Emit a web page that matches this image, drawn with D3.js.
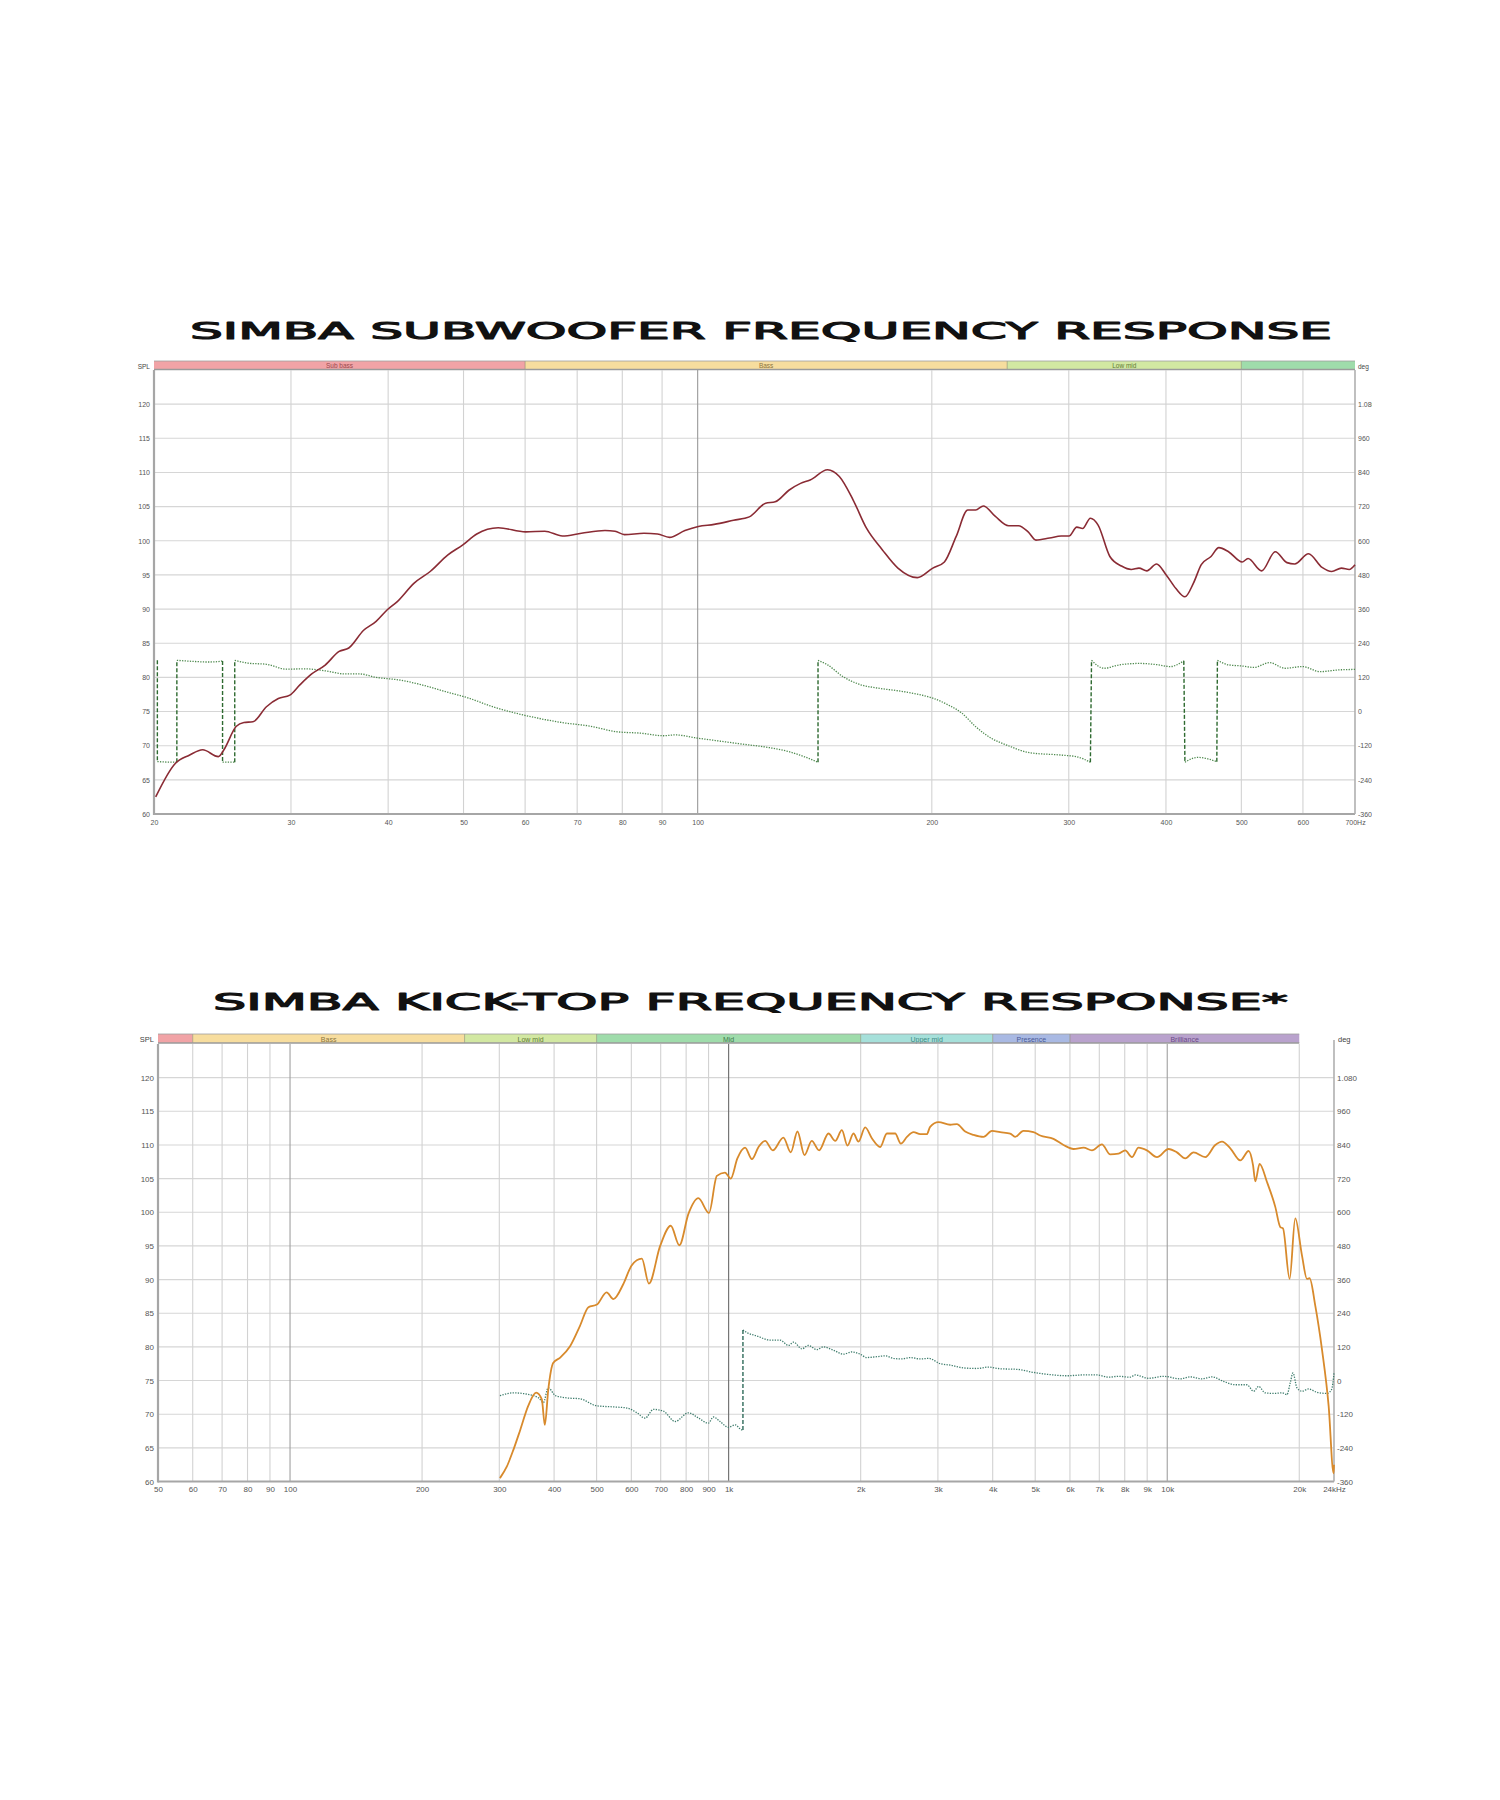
<!DOCTYPE html>
<html>
<head>
<meta charset="utf-8">
<script src="https://cdn.jsdelivr.net/npm/d3@7"></script>
<style>
  body { margin: 0; background: #ffffff; }
  svg { display: block; }
</style>
</head>
<body>
<svg id="chart" width="1500" height="1800"></svg>
<script>
// ---------------- DATA ----------------
const bandNames  = ["Sub bass", "Bass", "Low mid", "Mid", "Upper mid", "Presence", "Brilliance"];
const bandEdges  = [20, 60, 250, 500, 2000, 4000, 6000, 20000];
const bandColors = ["#f1a3a6", "#f7dd9e", "#d2e8a2", "#9fdcab", "#a6e0da", "#a9b9e3", "#b9a2cd"];
const bandText   = ["#9a4a4e", "#8a7440", "#5f7a36", "#3f7a4c", "#3f8a84", "#4a5a96", "#6a4a86"];

const splTicks = [60, 65, 70, 75, 80, 85, 90, 95, 100, 105, 110, 115, 120];
const degTicks = [-360, -240, -120, 0, 120, 240, 360, 480, 600, 720, 840, 960, 1080];

const subTitle = "SIMBA SUBWOOFER FREQUENCY RESPONSE";
const subXTicks = [20, 30, 40, 50, 60, 70, 80, 90, 100, 200, 300, 400, 500, 600, 700];
const subGrid   = [30, 40, 50, 60, 70, 80, 90, 100, 200, 300, 400, 500, 600];

const subSplFreq = [20.1,21.3,22.2,23.1,24.2,24.6,25.5,26.1,26.8,27.9,28.9,29.9,30.8,31.9,33.2,34.6,35.6,37.2,38.6,39.9,41.1,43.2,45.3,47.7,49.9,52,55.4,60.1,63.6,67,70.9,76,78.3,80.5,85.3,88.8,92,96.3,100.2,105,111.2,116.5,122.3,125.8,131,135.6,139.5,146.9,152.1,158.4,164.9,172.7,180.9,191.6,200.6,207.6,214.9,222.5,227.7,233,241.2,251.1,258.5,266,272.2,283.4,293.4,300.2,307.2,312.5,319.8,327.2,338.8,350.7,360.9,369.3,378,389,400.3,412,423.1,433.9,444.1,457.1,467.8,481.4,501.2,510,531,552.8,572.3,585.5,610,634.9,653.4,672.4,688.1,700];
const subSplDb   = [62.5,67.4,68.6,69.4,68.4,69.4,72.8,73.4,73.5,75.7,76.9,77.4,78.9,80.5,81.8,83.8,84.3,86.9,88.2,89.9,91.1,93.8,95.5,97.9,99.4,101,101.9,101.3,101.4,100.7,101.1,101.5,101.4,100.9,101.1,101,100.5,101.5,102.1,102.4,103,103.5,105.5,105.7,107.4,108.4,108.9,110.4,109.4,106,101.8,98.7,96,94.6,96,96.9,100.6,104.5,104.5,105.1,103.6,102.2,102.2,101.3,100.1,100.4,100.7,100.7,102,101.8,103.3,102.3,97.7,96.3,95.8,96,95.6,96.6,95,93,91.8,93.8,96.5,97.7,99,98.4,96.9,97.4,95.6,98.4,96.8,96.6,98.1,96.1,95.5,96,95.8,96.5];

const subPhaseFreq = [20.2,20.2,21.3,21.4,21.4,22.5,23.5,24.3,24.5,24.5,25.4,25.4,26.4,27.9,29.6,31.3,33.2,35.2,36.8,38.6,41.3,44.3,47.4,50.8,54.5,58.4,62.5,67,72.6,78.7,84.4,90.4,93.6,99.1,106.2,113.8,123.7,131,137.2,142.8,142.8,146.9,153.9,161.2,170.7,180.9,191.6,200.6,210,218.7,227.7,238.5,249.7,267.6,293.4,307.2,319.8,320.9,333,348.6,369.3,391.3,404.9,421.7,423.1,439.2,465,465.8,481.4,501.2,518.9,543.5,569,599.3,631,664.8,700];
const subPhaseDeg  = [180,-176,-178,-178,180,176,174,176,178,-178,-178,180,170,166,149,150,143,132,132,120,111,93,70,47,17,-6,-24,-39,-51,-71,-76,-85,-82,-92,-103,-114,-127,-141,-159,-178,180,164,122,96,82,73,61,47,23,-6,-53,-94,-118,-145,-153,-159,-178,180,152,164,169,164,158,178,-178,-161,-176,180,164,160,155,172,152,158,140,146,148];

const kickTitle = "SIMBA KICK-TOP FREQUENCY RESPONSE*";
const kickXTicks = [50, 60, 70, 80, 90, 100, 200, 300, 400, 500, 600, 700, 800, 900, 1000, 2000, 3000, 4000, 5000, 6000, 7000, 8000, 9000, 10000, 20000, 24000];
const kickGrid   = [60, 70, 80, 90, 100, 200, 300, 400, 500, 600, 700, 800, 900, 1000, 2000, 3000, 4000, 5000, 6000, 7000, 8000, 9000, 10000, 20000];

const kickSplFreq = [301,312,323,335,349,364,375,381,388,398,413,435,458,479,501,527,546,575,601,634,658,698,738,772,810,853,902,940,981,1011,1047,1090,1130,1170,1211,1261,1333,1386,1435,1489,1547,1608,1689,1750,1812,1866,1926,1977,2048,2121,2216,2295,2397,2470,2550,2640,2735,2831,2880,3010,3200,3314,3462,3617,3812,3984,4160,4385,4500,4700,4955,5133,5503,5801,6116,6446,6735,7096,7413,7744,8020,8308,8600,8989,9476,10070,10521,10993,11480,12211,12871,13331,13924,14676,15330,15688,15876,16238,16882,17633,18104,18360,19011,19585,20284,20825,21113,21757,22535,23336,23950,24000];
const kickSplDb   = [60.5,62.2,64.7,67.7,71.2,73.2,72.2,68.4,73.7,77.6,78.4,80.1,83.1,85.9,86.3,88.1,87.1,89.3,92.1,93.1,89.4,95,98,95.1,99.8,102.1,99.9,105.4,105.9,105,108,109.6,107.9,109.7,110.6,109.2,111.1,108.9,112,108.5,110.6,109.2,111.7,110.6,112.2,109.9,111.7,110.5,112.6,111,109.7,111.7,111.7,110.2,111.2,111.9,111.6,111.6,112.7,113.4,113,113.1,112,111.5,111.2,112.1,111.9,111.7,111.2,112.1,111.9,111.4,110.9,110,109.4,109.6,109.2,110.1,108.6,108.7,109.2,108.2,109.6,109.2,108.2,109.4,108.9,108,108.9,108.2,110,110.5,109.5,107.7,109.1,107,104.6,107.2,104.5,100.8,97.8,97.6,90.1,99.1,93.6,90.1,90.2,86.1,79.6,71.2,61.2,62.5];

const kickPhaseFreq = [301,323,345,369,378,388,403,428,458,500,546,586,618,645,674,710,755,810,854,899,923,956,999,1035,1072,1078,1078,1100,1160,1243,1310,1369,1406,1469,1520,1589,1645,1734,1827,1910,1995,2065,2177,2275,2376,2483,2594,2735,2859,3037,3200,3431,3681,3913,4160,4541,4955,5409,5903,6446,6909,7346,7744,8233,8452,9063,9807,10706,11283,11996,12645,13440,14289,15194,15733,16157,16730,17473,18264,18749,19075,19349,19760,20284,21004,21950,23136,23700,24000];
const kickPhaseDeg  = [-54,-44,-48,-62,-79,-26,-54,-62,-65,-90,-94,-98,-115,-134,-103,-109,-146,-115,-134,-152,-130,-146,-167,-158,-176,-176,180,171,159,144,144,125,137,113,125,110,120,108,94,102,94,82,85,88,79,77,82,77,79,60,55,45,43,48,42,40,29,21,17,20,20,12,15,12,20,8,15,6,13,6,13,-3,-15,-15,-38,-21,-44,-46,-44,-50,-8,27,-26,-38,-30,-42,-46,-32,27];

// ---------------- DRAWING ----------------
const svg = d3.select("#chart");
svg.append("rect").attr("width", 1500).attr("height", 1800).attr("fill", "#ffffff");

const zip = (a, b) => a.map((v, i) => [v, b[i]]);
const fmtK = f => f >= 1000 ? (f / 1000) + "k" : String(f);
const fmtDeg = d => d === 1080 ? "1.080" : String(d);

function drawChart(cfg) {
  const g = svg.append("g");
  if (cfg.clipRight) {
    const id = "clip" + cfg.id;
    svg.append("clipPath").attr("id", id).append("rect")
      .attr("x", 0).attr("y", cfg.top - 80).attr("width", cfg.clipRight).attr("height", cfg.bottom - cfg.top + 140);
    g.attr("clip-path", `url(#${id})`);
  }
  const x = d3.scaleLog().domain(cfg.xDomain).range([cfg.left, cfg.right]);
  const y = d3.scaleLinear().domain([60, 125]).range([cfg.bottom, cfg.top]);
  const yDeg = d3.scaleLinear().domain([-360, 1200]).range([cfg.bottom, cfg.top]);

  // Title
  svg.append("text")
    .attr("x", cfg.titleX0).attr("y", cfg.titleY)
    .attr("textLength", cfg.titleW).attr("lengthAdjust", "spacingAndGlyphs")
    .attr("font-family", "DejaVu Sans, sans-serif").attr("font-weight", "normal")
    .attr("font-size", 23).attr("fill", "#111").attr("stroke", "#111").attr("stroke-width", 1.1)
    .attr("stroke-linejoin", "round")
    .text(cfg.title);

  // Band bar
  const barEnd = Math.min(cfg.xDomain[1], bandEdges[bandEdges.length - 1]);
  bandNames.forEach((name, i) => {
    const a = Math.max(bandEdges[i], cfg.xDomain[0]);
    const b = Math.min(bandEdges[i + 1], barEnd);
    if (b <= a) return;
    g.append("rect").attr("x", x(a)).attr("y", cfg.barY).attr("width", x(b) - x(a)).attr("height", cfg.barH)
      .attr("fill", bandColors[i]);
    const c = Math.sqrt(bandEdges[i] * bandEdges[i + 1]);
    if (c > cfg.xDomain[0] && c < cfg.xDomain[1]) {
      g.append("text").attr("x", x(c)).attr("y", cfg.barY + cfg.barH - 1.5)
        .attr("text-anchor", "middle").attr("font-family", "Liberation Sans, Arial, sans-serif")
        .attr("font-size", cfg.barFont).attr("fill", bandText[i]).text(name);
    }
    if (i > 0 && bandEdges[i] > cfg.xDomain[0]) {
      g.append("line").attr("x1", x(bandEdges[i])).attr("x2", x(bandEdges[i]))
        .attr("y1", cfg.barY).attr("y2", cfg.barY + cfg.barH).attr("stroke", "#8a8a6a").attr("stroke-width", 0.6);
    }
  });
  g.append("line").attr("x1", cfg.left).attr("x2", x(barEnd)).attr("y1", cfg.barY).attr("y2", cfg.barY)
    .attr("stroke", "#a0a0a0").attr("stroke-width", 0.8);
  g.append("line").attr("x1", cfg.left).attr("x2", x(barEnd)).attr("y1", cfg.barY + cfg.barH).attr("y2", cfg.barY + cfg.barH)
    .attr("stroke", "#9a9a9a").attr("stroke-width", 1.5);

  // Grid
  g.selectAll(null).data(splTicks.filter(v => v > 60)).enter().append("line")
    .attr("x1", cfg.left).attr("x2", cfg.right).attr("y1", d => y(d)).attr("y2", d => y(d))
    .attr("stroke", "#d6d6d6").attr("stroke-width", 1.1);
  g.selectAll(null).data(cfg.grid).enter().append("line")
    .attr("x1", d => x(d)).attr("x2", d => x(d)).attr("y1", cfg.top).attr("y2", cfg.bottom)
    .attr("stroke", d => cfg.darkGrid.includes(d) ? cfg.darkColor(d) : "#d2d2d2")
    .attr("stroke-width", 1.1);

  // Frame
  g.append("line").attr("x1", cfg.left).attr("x2", cfg.left).attr("y1", cfg.top).attr("y2", cfg.bottom + 1)
    .attr("stroke", "#a6a6a6").attr("stroke-width", 2.2);
  g.append("line").attr("x1", cfg.left).attr("x2", cfg.right).attr("y1", cfg.bottom).attr("y2", cfg.bottom)
    .attr("stroke", "#a6a6a6").attr("stroke-width", 2.2);
  g.append("line").attr("x1", cfg.right).attr("x2", cfg.right).attr("y1", cfg.top - (cfg.rightTopExtra || 0)).attr("y2", cfg.bottom)
    .attr("stroke", "#b0b0b0").attr("stroke-width", 1.6);

  // Axes labels
  const labelFont = "Liberation Sans, Arial, sans-serif";
  const ax = g.append("g").attr("transform", `translate(0,${cfg.bottom})`)
    .call(d3.axisBottom(x).tickValues(cfg.xTicks).tickSize(0).tickPadding(cfg.xPad)
      .tickFormat(d => d === cfg.xDomain[1] ? fmtK(d) + "Hz" : fmtK(d)));
  ax.select(".domain").remove();
  ax.selectAll("text").attr("font-family", labelFont).attr("font-size", cfg.tickFont).attr("fill", "#555");

  const ayl = g.append("g").attr("transform", `translate(${cfg.left},0)`)
    .call(d3.axisLeft(y).tickValues(splTicks).tickSize(0).tickPadding(cfg.yPad));
  ayl.select(".domain").remove();
  ayl.selectAll("text").attr("font-family", labelFont).attr("font-size", cfg.tickFont).attr("fill", "#555");

  const ayr = g.append("g").attr("transform", `translate(${cfg.right},0)`)
    .call(d3.axisRight(yDeg).tickValues(degTicks).tickSize(0).tickPadding(cfg.yPadR).tickFormat(fmtDeg));
  ayr.select(".domain").remove();
  ayr.selectAll("text").attr("font-family", labelFont).attr("font-size", cfg.tickFont).attr("fill", "#555");

  g.append("text").attr("x", cfg.left - 4).attr("y", cfg.barY + cfg.barH - 1).attr("text-anchor", "end")
    .attr("font-family", labelFont).attr("font-size", cfg.tickFont - 0.5).attr("fill", "#444").text("SPL");
  g.append("text").attr("x", cfg.degX).attr("y", cfg.barY + cfg.barH - 1)
    .attr("font-family", labelFont).attr("font-size", cfg.tickFont - 0.5).attr("fill", "#444").text("deg");

  // Phase (dotted, with dashed wrap lines)
  const phase = zip(cfg.phaseF, cfg.phaseD);
  const runs = [[phase[0]]];
  const wraps = [];
  for (let i = 1; i < phase.length; i++) {
    if (Math.abs(phase[i][1] - phase[i - 1][1]) > 200) {
      wraps.push([phase[i - 1], phase[i]]);
      runs.push([phase[i]]);
    } else runs[runs.length - 1].push(phase[i]);
  }
  const pLine = d3.line().x(d => x(d[0])).y(d => yDeg(d[1])).curve(d3.curveMonotoneX);
  runs.filter(r => r.length > 1).forEach(r => {
    g.append("path").attr("d", pLine(r)).attr("fill", "none")
      .attr("stroke", cfg.phaseColor).attr("stroke-width", 1.3).attr("stroke-dasharray", "1.3,1.3");
  });
  wraps.forEach(w => {
    g.append("path").attr("d", d3.line().x(d => x(d[0])).y(d => yDeg(d[1]))(w)).attr("fill", "none")
      .attr("stroke", cfg.wrapColor).attr("stroke-width", 1.4).attr("stroke-dasharray", "4,2");
  });

  // SPL
  const sLine = d3.line().x(d => x(d[0])).y(d => y(d[1])).curve(d3.curveMonotoneX);
  g.append("path").attr("d", sLine(zip(cfg.splF, cfg.splD))).attr("fill", "none")
    .attr("stroke", cfg.splColor).attr("stroke-width", cfg.splWidth).attr("stroke-linejoin", "round");
}

drawChart({
  id: "sub", title: subTitle, titleX0: 190, titleW: 1142, titleY: 339,
  xDomain: [20, 700], left: 154, right: 1355, top: 370, bottom: 814,
  barY: 361, barH: 8.5, barFont: 6.5, clipRight: 1372,
  xTicks: subXTicks, grid: subGrid, darkGrid: [100], darkColor: () => "#9a9a9a",
  xPad: 6, yPad: 4, yPadR: 3, tickFont: 7, degX: 1358,
  splF: subSplFreq, splD: subSplDb, splColor: "#8a2b34", splWidth: 1.6,
  phaseF: subPhaseFreq, phaseD: subPhaseDeg, phaseColor: "#4f8a4f", wrapColor: "#2e6a30"
});

drawChart({
  id: "kick", title: kickTitle, titleX0: 213, titleW: 1075, titleY: 1010,
  xDomain: [50, 24000], left: 158, right: 1334, top: 1044, bottom: 1481.5,
  barY: 1034, barH: 9, barFont: 7, rightTopExtra: 4,
  xTicks: kickXTicks, grid: kickGrid, darkGrid: [100, 1000, 10000],
  darkColor: d => d === 1000 ? "#6a6a6a" : "#a0a0a0",
  xPad: 5, yPad: 4, yPadR: 3, tickFont: 8, degX: 1338,
  splF: kickSplFreq, splD: kickSplDb, splColor: "#d88a2c", splWidth: 1.8,
  phaseF: kickPhaseFreq, phaseD: kickPhaseDeg, phaseColor: "#3f7d6d", wrapColor: "#2f6a5a"
});
</script>
</body>
</html>
